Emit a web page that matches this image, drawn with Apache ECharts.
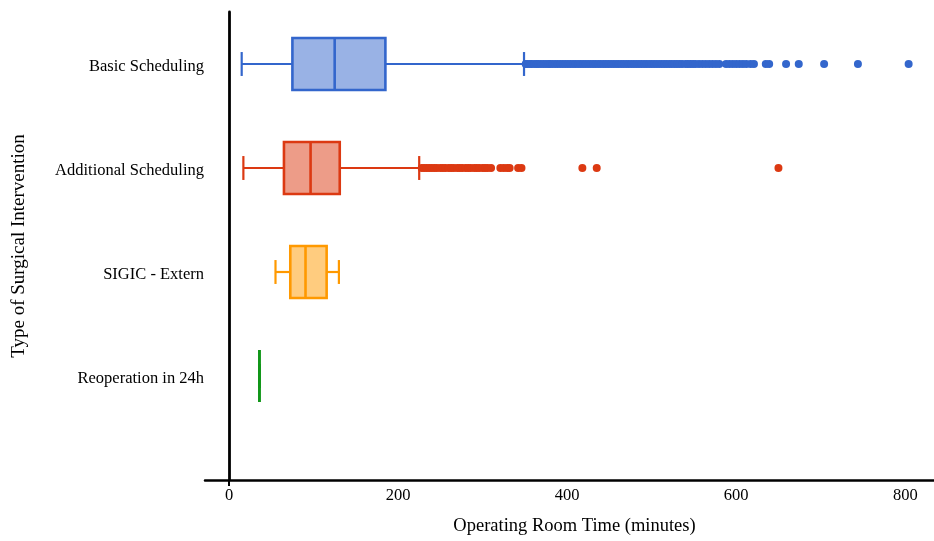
<!DOCTYPE html>
<html><head><meta charset="utf-8">
<script src="https://cdn.jsdelivr.net/npm/echarts@6/dist/echarts.min.js"></script>
<style>html,body{margin:0;padding:0;background:#fff}#c{width:934px;height:541px}</style>
</head><body><div id="c"></div>
<script>
const categories = ['Basic Scheduling', 'Additional Scheduling', 'SIGIC - Extern', 'Reoperation in 24h'];
const boxMin = [15, 17, 55, 36];
const boxQ1 = [75, 65, 72.5, 36];
const boxMedian = [125, 96.5, 90.5, 36];
const boxQ3 = [185, 131, 115.5, 36];
const boxMax = [349, 225, 130, 36];
const outliersBasic = [351, 353, 356, 358, 361, 364, 366, 369, 372, 375, 378, 380, 383, 386, 389, 392, 395, 398, 401, 404,
  407, 410, 413, 416, 419, 422, 425, 428, 431, 434, 437, 440, 443, 446, 449, 452, 455, 458, 461, 464, 467, 470, 473, 476,
  479, 482, 485, 488, 491, 494, 497, 500, 503, 506, 509, 512, 515, 518, 521, 524, 527, 530, 533, 536, 540, 543, 546, 549,
  552, 556, 560, 564, 568, 572, 576, 580, 588, 592, 596, 600, 604, 608, 612, 617, 621, 635, 639, 659, 674, 704, 744, 804];
const outliersAdditional = [228, 231, 234, 237, 240, 243, 246, 250, 253, 256, 260, 263, 266, 270, 273, 276, 280, 283, 286,
  290, 293, 296, 300, 303, 306, 310, 321, 325, 329, 332, 342, 346, 418, 435, 650];
const outliersSigic = [];
const outliersReop = [];
const xTickValues = [0, 200, 400, 600, 800];
const xTitle = 'Operating Room Time (minutes)';
const yTitle = 'Type of Surgical Intervention';

const strokeColors = ['#3366cc', '#dc3912', '#ff9900', '#109618'];
const fillColors = ['rgba(51,102,204,0.5)', 'rgba(220,57,18,0.5)', 'rgba(255,153,0,0.5)', 'rgba(16,150,24,0.5)'];
const FONT = "'Liberation Serif', 'Times New Roman', serif";
const X_MIN = -28.4, X_MAX = 834;

const boxData = categories.map((c, i) => [i, boxMin[i], boxQ1[i], boxMedian[i], boxQ3[i], boxMax[i]]);
const outlierSets = [outliersBasic, outliersAdditional, outliersSigic, outliersReop];

function renderBox(params, api) {
  const i = api.value(0);
  const xMin = api.coord([api.value(1), i])[0];
  const xQ1 = api.coord([api.value(2), i])[0];
  const pMed = api.coord([api.value(3), i]);
  const xQ3 = api.coord([api.value(4), i])[0];
  const xMax = api.coord([api.value(5), i])[0];
  const yc = pMed[1];
  const band = api.size([0, 1])[1];
  const half = band * 0.25;
  const cap = band * 0.115;
  const col = strokeColors[i];
  const ls = { stroke: col, lineWidth: 2.2 };
  return {
    type: 'group',
    children: [
      { type: 'line', shape: { x1: xMin, y1: yc, x2: xQ1, y2: yc }, style: ls },
      { type: 'line', shape: { x1: xQ3, y1: yc, x2: xMax, y2: yc }, style: ls },
      { type: 'line', shape: { x1: xMin, y1: yc - cap, x2: xMin, y2: yc + cap }, style: ls },
      { type: 'line', shape: { x1: xMax, y1: yc - cap, x2: xMax, y2: yc + cap }, style: ls },
      { type: 'rect', shape: { x: xQ1, y: yc - half, width: xQ3 - xQ1, height: 2 * half },
        style: { fill: fillColors[i], stroke: col, lineWidth: 2.6 } },
      { type: 'line', shape: { x1: pMed[0], y1: yc - half, x2: pMed[0], y2: yc + half }, style: { stroke: col, lineWidth: 2.6 } }
    ]
  };
}

const chart = echarts.init(document.getElementById('c'), null, { renderer: 'canvas' });
const scatterSeries = outlierSets.map((set, i) => ({
  type: 'scatter', xAxisIndex: 0, yAxisIndex: 0,
  data: set.map(v => [v, i]),
  symbolSize: 8,
  itemStyle: { color: strokeColors[i], opacity: 1 },
  emphasis: { disabled: true },
  z: 3
}));

chart.setOption({
  animation: false,
  backgroundColor: '#fff',
  grid: [
    { left: 205, right: 0, top: 12, height: 416, containLabel: false, outerBoundsMode: 'none' },
    { left: 205, right: 0, top: 12, bottom: 61, containLabel: false, outerBoundsMode: 'none' }
  ],
  xAxis: [
    { gridIndex: 0, type: 'value', min: X_MIN, max: X_MAX, show: false },
    { gridIndex: 1, type: 'value', min: X_MIN, max: X_MAX,
      axisLine: { show: true, onZero: false, lineStyle: { color: '#000', width: 2.5 } },
      axisTick: { show: true, customValues: [0], length: 6, lineStyle: { color: '#000', width: 2 } },
      axisLabel: { customValues: xTickValues, fontFamily: FONT, fontSize: 16.5, color: '#000', margin: 7 },
      splitLine: { show: false },
      name: xTitle, nameLocation: 'middle', nameGap: 37,
      nameTextStyle: { fontFamily: FONT, fontSize: 18.5, color: '#000', padding: [0, 0, 0, 10] }
    }
  ],
  yAxis: [
    { gridIndex: 0, type: 'category', data: categories, inverse: true,
      axisLine: { show: false, onZero: false }, axisTick: { show: false }, splitLine: { show: false },
      axisLabel: { margin: 1, formatter: v => '{c|' + v + '}',
        rich: { c: { fontFamily: FONT, fontSize: 16.5, color: '#000', padding: [6, 0, 0, 0] } } } },
    { gridIndex: 1, type: 'value', min: 0, max: 1,
      axisLine: { show: true, onZero: true, lineStyle: { color: '#000', width: 2.8 } },
      axisTick: { show: false }, axisLabel: { show: false }, splitLine: { show: false },
      name: yTitle, nameLocation: 'middle', nameGap: 176,
      nameTextStyle: { fontFamily: FONT, fontSize: 19, color: '#000' } }
  ],
  series: [
    { type: 'custom', xAxisIndex: 0, yAxisIndex: 0, renderItem: renderBox, data: boxData,
      encode: { x: [1, 2, 3, 4, 5], y: 0 }, z: 2, clip: false }
  ].concat(scatterSeries)
});
</script></body></html>
